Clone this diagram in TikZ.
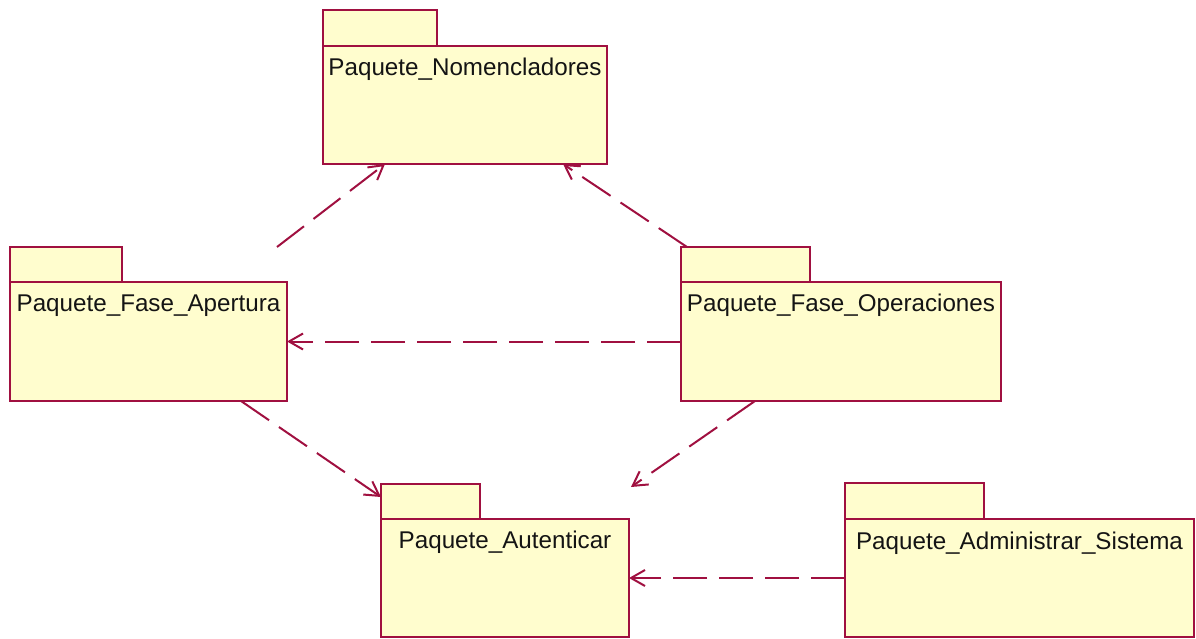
\documentclass[tikz,border=0pt]{standalone}
\usepackage{fontspec}
\setmainfont{Liberation Sans}
\usetikzlibrary{arrows.meta}
\definecolor{pkgline}{RGB}{160,16,64}
\definecolor{pkgfill}{RGB}{255,253,206}
\definecolor{pkgtext}{RGB}{20,20,20}
\begin{document}
\begin{tikzpicture}[x=1pt,y=-1pt,
  pkgbody/.style={draw=pkgline, fill=pkgfill, line width=2pt, inner sep=0pt, outer sep=0pt, anchor=north west},
  pkgtab/.style={draw=pkgline, fill=pkgfill, line width=2pt, inner sep=0pt, outer sep=0pt, anchor=south west},
  pkglabel/.style={anchor=base, inner sep=0pt, text=pkgtext, font=\fontsize{24.2}{29}\selectfont},
  dep/.style={draw=pkgline, line width=2pt, dash pattern=on 34pt off 12pt,
    -{Straight Barb[length=14pt,width=16pt,line width=2pt]}}]
\useasboundingbox (0,0) rectangle (1196,639);

% Paquete_Nomencladores
\node[pkgbody, minimum width=284pt, minimum height=118pt] (nomB) at (323,46) {};
\node[pkgtab, minimum width=114pt, minimum height=36pt] (nomT) at (nomB.north west) {};
\node[pkglabel] (nomL) at ([yshift=-30pt]nomB.north) {Paquete\_Nomencladores};

% Paquete_Fase_Apertura
\node[pkgbody, minimum width=277pt, minimum height=119pt] (apB) at (10,282) {};
\node[pkgtab, minimum width=112pt, minimum height=35pt] (apT) at (apB.north west) {};
\node[pkglabel] (apL) at ([yshift=-29pt]apB.north) {Paquete\_Fase\_Apertura};

% Paquete_Fase_Operaciones
\node[pkgbody, minimum width=320pt, minimum height=119pt] (opB) at (681,282) {};
\node[pkgtab, minimum width=129pt, minimum height=35pt] (opT) at (opB.north west) {};
\node[pkglabel] (opL) at ([yshift=-29pt]opB.north) {Paquete\_Fase\_Operaciones};

% Paquete_Autenticar
\node[pkgbody, minimum width=248pt, minimum height=118pt] (autB) at (381,519) {};
\node[pkgtab, minimum width=99pt, minimum height=35pt] (autT) at (autB.north west) {};
\node[pkglabel] (autL) at ([yshift=-29pt]autB.north) {Paquete\_Autenticar};

% Paquete_Administrar_Sistema
\node[pkgbody, minimum width=349pt, minimum height=118pt] (admB) at (845,519) {};
\node[pkgtab, minimum width=139pt, minimum height=36pt] (admT) at (admB.north west) {};
\node[pkglabel] (admL) at ([yshift=-30pt]admB.north) {Paquete\_Administrar\_Sistema};

% dependencies
\draw[dep] ([xshift=-10pt,yshift=35pt]apB.north east) -- ([xshift=62pt]nomB.south west);
\draw[dep] ([xshift=6pt,yshift=35pt]opB.north west) -- ([xshift=-44pt]nomB.south east);
\draw[dep] (opB.west) -- (apB.east);
\draw[dep] ([xshift=-46pt]apB.south east) -- ([yshift=22pt]autB.north west);
\draw[dep] ([xshift=74pt]opB.south west) -- ([xshift=2pt,yshift=32pt]autB.north east);
\draw[dep] (admB.west) -- (autB.east);
\end{tikzpicture}
\end{document}
